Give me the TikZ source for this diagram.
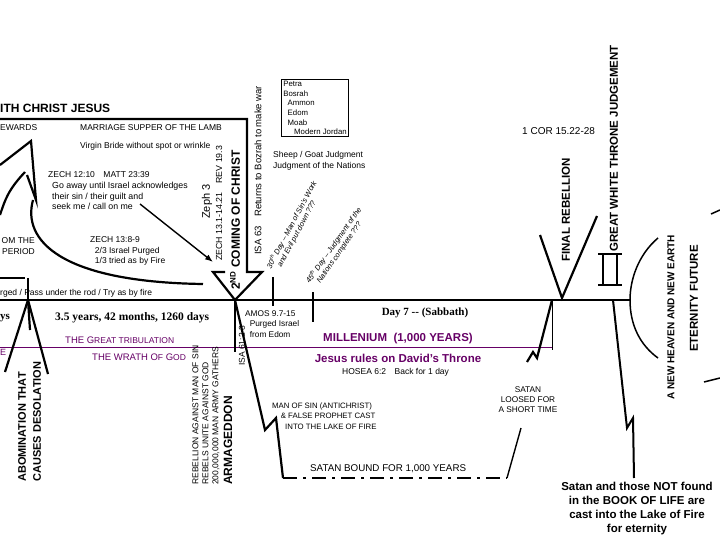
\documentclass[tikz,border=0pt]{standalone}
\usepackage{fontspec}
\setmainfont{Liberation Sans}
\newfontfamily\serifb{Liberation Serif}
\usetikzlibrary{arrows.meta}
\definecolor{purp}{RGB}{102,0,102}
\newcommand{\fs}[2]{\fontsize{#1}{#2}\selectfont}
\begin{document}
\begin{tikzpicture}[x=1pt,y=-1pt,
  txt/.style={inner sep=0pt,font=\fs{8}{10}},
  txtl/.style={txt,anchor=west},
  rot/.style={txt,rotate=90,anchor=west},
  thick2/.style={line width=2.2pt},
  thick1/.style={line width=1.4pt}]
\useasboundingbox (0,0) rectangle (720,540);
% timeline
\coordinate (t0) at (0,300); \coordinate (t1) at (630,300);
\draw[line width=2pt] (t0) -- (t1);
\draw[purp,line width=0.8pt] (0,347) -- (552,347);
\draw[line width=1pt] (552,300) -- (552,350);
% big box and 2nd coming arrow
\draw[thick2] (0,119) -- (247,119) -- (247,272) -- (262,272) -- (235,300) -- (213,272) -- (225,272);
% curved arrow
\draw[thick2] (203,284) .. controls (60,282) and (22,240) .. (33,200);
\draw[thick2] (0,165) -- (31,141) -- (36,200) -- (27,175);
\draw[thick2] (0,215) .. controls (5,200) and (8,190) .. (25,172);
\coordinate (sa) at (140,204); \coordinate (sb) at (213,262);
\draw[thick1,-{Latex[length=8pt]}] (sa) -- (sb);
% left ticks
\draw[thick1] (0,278) -- (25,278);
\draw[thick1] (28,278) -- (28,300);
\draw[thick2] (5,372) -- (28,300) -- (48,374);
\draw[thick2] (28,300) -- (30,330);
% ticks after 2nd coming
\draw[thick1] (235,300) -- (235,352);
\draw[thick1] (273,277) -- (273,306);
\draw[thick1] (313,292) -- (313,322);
% descent to lake of fire
\draw[thick2] (235,300) -- (265,430) -- (276,418) -- (283,478);
\draw[line width=2pt,dash pattern=on 14pt off 6pt on 3pt off 6pt] (283,478) -- (507,478);
\draw[thick1] (507,478) -- (521,428);
\draw[thick2] (527,362) -- (533,352) -- (537,358) -- (552,300);
% final rebellion V
\draw[thick2] (540,235) -- (562,298) -- (597,216);
% throne symbol
\draw[line width=1.5pt] (598,254) -- (622,254);
\draw[line width=2.5pt] (603,254) -- (603,285) (617,254) -- (617,285);
\draw[line width=1.2pt] (598,285) -- (622,285);
% eternity arcs
\draw[line width=1.5pt] (658,238) .. controls (638,255) and (630,280) .. (630,300) .. controls (630,325) and (640,345) .. (658,358);
\draw[line width=1.5pt] (711,214) -- (720,210);
\draw[line width=1.5pt] (704,382) -- (720,378);
\draw[line width=2pt] (613,300) -- (627,428) -- (633,418) -- (634,478);
% box
\node[draw,thick,txtl,align=left,inner sep=2pt,font=\fs{7.8}{9.6}] (petra) at (281,108) {Petra\\Bosrah\\\ \ Ammon\\\ \ Edom\\\ \ Moab\\\ \ \ \ \ Modern Jordan};
% texts top
\node[txtl,font=\fs{12}{14}\bfseries] (wcj) at (0,108) {ITH CHRIST JESUS};
\node[txtl,font=\fs{8.5}{10}] (rew) at (0,128) {EWARDS};
\node[txtl,font=\fs{8.5}{10}] (msl) at (80,128) {MARRIAGE SUPPER OF THE LAMB};
\node[txtl,font=\fs{8.5}{10}] (vb) at (80,146) {Virgin Bride without spot or wrinkle};
\node[txtl,font=\fs{8.5}{10}] (z12) at (48,175) {ZECH 12:10\quad MATT 23:39};
\node[txtl,align=left,font=\fs{8.8}{10.5}] (goa) at (52,196) {Go away until Israel acknowledges\\their sin / their guilt and\\seek me / call on me};
\node[txtl,align=left,font=\fs{8.5}{10.5}] (z13) at (90,251) {ZECH 13:8-9\\\ \ 2/3 Israel Purged\\\ \ 1/3 tried as by Fire};
\node[txtl,align=right,anchor=east,font=\fs{8.5}{10.5}] (omt) at (35,246) {OM THE\\PERIOD};
\node[txtl,font=\fs{8.5}{10}] (pur) at (0,293) {rged / Pass under the rod / Try as by fire};
\node[rot,font=\fs{11}{12}] (zeph) at (207,219) {Zeph 3};
\node[rot,font=\fs{8.8}{10}] (zr) at (219,261) {ZECH 13.1-14.21\quad REV 19.3};
\node[rot,font=\fs{12}{13}\bfseries] (sc) at (235,290) {2\textsuperscript{ND} COMING OF CHRIST};
\node[rot,font=\fs{9.5}{11}] (isa63) at (258,255) {ISA 63\quad Returns to Bozrah to make war};
\node[txtl,align=left,font=\fs{8.5}{10.5}] (sheep) at (273,161) {Sheep / Goat Judgment\\Judgment of the Nations};
\node[txt,rotate=62,anchor=south west,align=left,font=\fs{7.5}{8.5}\itshape] (d30) at (280,274) {30\textsuperscript{th} Day -- Man of Sin's Work\\\ \ \ and Evil put down ???};
\node[txt,rotate=55,anchor=south west,align=left,font=\fs{7.5}{8.5}\itshape] (d45) at (318,290) {45\textsuperscript{th} Day -- Judgment of the\\\ \ \ Nations complete ???};
\node[txtl,font=\fs{10}{11}] (cor) at (522,131) {1 COR 15.22-28};
\node[rot,font=\fs{11.5}{13}\bfseries] (fr) at (566,262) {FINAL REBELLION};
\node[rot,font=\fs{11.5}{13}\bfseries] (gwt) at (614,252) {GREAT WHITE THRONE JUDGEMENT};
\node[rot,font=\fs{10}{12}\bfseries] (nh) at (671,400) {A NEW HEAVEN AND NEW EARTH};
\node[rot,font=\fs{11.5}{13}\bfseries] (ef) at (694,352) {ETERNITY FUTURE};
% below timeline
\node[txtl,font=\fs{11}{12}\serifb\bfseries] (ys) at (0,318) {ys};
\node[txtl,font=\fs{11.5}{13}\serifb\bfseries] (y35) at (55,318) {3.5 years, 42 months, 1260 days};
\node[txtl,purp,font=\fs{9.5}{10}] (gt) at (65,340) {THE G{\fs{8.5}{9}REAT TRIBULATION}};
\node[txtl,purp,font=\fs{9.5}{10}] (wg) at (92,357) {THE WRATH O{\fs{8.5}{9}F} G{\fs{8.5}{9}OD}};
\node[txtl,purp,font=\fs{9}{10}] (e) at (0,352) {E};
\node[rot,font=\fs{11}{12}\bfseries] (abom) at (22,482) {ABOMINATION THAT};
\node[rot,font=\fs{11}{12}\bfseries] (caus) at (37,482) {CAUSES DESOLATION};
\node[rot,align=left,font=\fs{8.5}{10}] (reb) at (206,485) {REBELLION AGAINST MAN OF SIN\\REBELS UNITE AGAINST GOD\\200,000,000 MAN ARMY GATHERS};
\node[rot,font=\fs{12}{13}\bfseries] (arm) at (228,485) {ARMAGEDDON};
\node[rot,font=\fs{8.5}{10}] (isa61) at (242,366) {ISA 61:2-3};
\node[txtl,align=left,font=\fs{8.3}{10.5}] (amos) at (245,324) {AMOS 9.7-15\\\ \ Purged Israel\\\ \ from Edom};
\node[txt,font=\fs{11}{12}\serifb\bfseries] (d7) at (425,313) {Day 7 -- (Sabbath)};
\node[txt,purp,font=\fs{11.5}{13}\bfseries] (mil) at (398,339) {MILLENIUM\ \ (1,000 YEARS)};
\node[txt,purp,font=\fs{11.5}{13}\bfseries] (jr) at (398,358) {Jesus rules on David's Throne};
\node[txtl,font=\fs{8.5}{10}] (hos) at (342,372) {HOSEA 6:2\quad Back for 1 day};
\node[txtl,align=left,font=\fs{7.8}{10.5}] (mos) at (272,416) {MAN OF SIN (ANTICHRIST)\\\ \ \ \ \& FALSE PROPHET CAST\\\ \ \ \ \ \ INTO THE LAKE OF FIRE};
\node[txtl,font=\fs{9.8}{11}] (sb1) at (310,469) {SATAN BOUND FOR 1,000 YEARS};
\node[txt,align=center,font=\fs{8.3}{10}] (sl) at (528,400) {SATAN\\LOOSED FOR\\A SHORT TIME};
\node[txt,align=center,font=\fs{11.5}{14}\bfseries] (lake) at (637,509) {Satan and those NOT found\\in the BOOK OF LIFE are\\cast into the Lake of Fire\\for eternity};
\end{tikzpicture}
\end{document}
